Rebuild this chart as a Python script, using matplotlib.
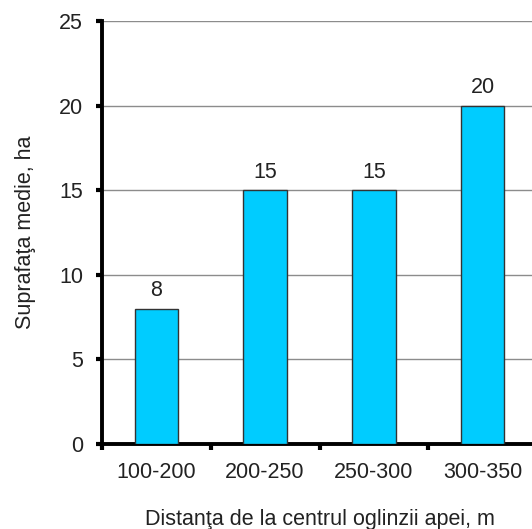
import numpy as np
import matplotlib.pyplot as plt

plt.rcParams['font.family'] = ['Liberation Sans', 'DejaVu Sans']

# data
categories = ['100-200', '200-250', '250-300', '300-350']
surface = [8, 15, 15, 20]
y_ticks = [0, 5, 10, 15, 20, 25]

fig = plt.figure(figsize=(5.32, 5.29), dpi=100)
W, H = 532, 529
# axes box in pixels: left 102, right ~537 (goes past the picture edge), top 21, bottom 444
ax = fig.add_axes([102 / W, (H - 444) / H, (537 - 102) / W, (444 - 21) / H])

x = np.arange(len(categories))
bars = ax.bar(x, surface, width=0.4, color='#00CCFF', edgecolor='#333333',
              linewidth=1.0, zorder=3)

for xi, v in zip(x, surface):
    ax.text(xi, v + 0.45, str(v), ha='center', va='bottom', fontsize=15.5,
            color='#222222')

ax.set_xlim(-0.5, len(categories) - 0.5)
ax.set_ylim(0, 25)
ax.set_yticks(y_ticks)
ax.yaxis.grid(True, color='#8c8c8c', linewidth=1.0, zorder=0)
ax.set_axisbelow(True)

ax.set_xticks(x)
ax.set_xticklabels(categories)
ax.set_xticks(np.arange(len(categories) + 1) - 0.5, minor=True)
ax.tick_params(axis='x', which='major', length=0, pad=12.7, labelsize=15.5,
               labelcolor='#222222')
ax.tick_params(axis='x', which='minor', length=4, width=3, direction='out')
ax.tick_params(axis='y', length=4, width=3, direction='out', pad=9.7,
               labelsize=15.5, labelcolor='#222222')

for side in ['top', 'right']:
    ax.spines[side].set_visible(False)
ax.spines['left'].set_linewidth(2.8)
ax.spines['bottom'].set_linewidth(2.8)

ax.set_xlabel('Distanţa de la centrul oglinzii apei, m', fontsize=15.5,
              color='#222222', labelpad=19)
ax.set_ylabel('Suprafaţa medie, ha', fontsize=15.5, color='#222222',
              labelpad=16.5)

fig.savefig('out.png', dpi=100)
